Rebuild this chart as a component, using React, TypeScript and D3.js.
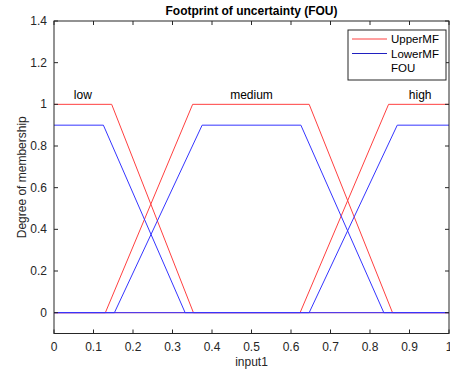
import React from "react";
import * as d3 from "d3";

const mfNames = ["low", "medium", "high"];
const labelX = [0.073, 0.5, 0.927];
const upperX = [
  [0, 0, 0.146, 0.353, 1],
  [0, 0.13, 0.351, 0.646, 0.857, 1],
  [0, 0.623, 0.847, 1, 1],
];
const upperY = [
  [1, 1, 1, 0, 0],
  [0, 0, 1, 1, 0, 0],
  [0, 0, 1, 1, 1],
];
const lowerX = [
  [0, 0, 0.125, 0.332, 1],
  [0, 0.153, 0.375, 0.625, 0.835, 1],
  [0, 0.646, 0.869, 1, 1],
];
const lowerY = [
  [0.9, 0.9, 0.9, 0, 0],
  [0, 0, 0.9, 0.9, 0, 0],
  [0, 0, 0.9, 0.9, 0.9],
];
const xTicks = [0, 0.1, 0.2, 0.3, 0.4, 0.5, 0.6, 0.7, 0.8, 0.9, 1];
const yTicks = [0, 0.2, 0.4, 0.6, 0.8, 1, 1.2, 1.4];
const legendItems = ["UpperMF", "LowerMF", "FOU"];

const RED = "#ff4040";
const BLUE = "#3535ff";
const AX = "#262626";
const FONT = "Liberation Sans, Arial, Helvetica, sans-serif";

export default function App() {
  const W = 450, H = 376;
  const left = 54, right = 449, top = 21, bottom = 333.5;
  const x = d3.scaleLinear().domain([0, 1]).range([left, right]);
  const y = d3.scaleLinear().domain([-0.1, 1.4]).range([bottom, top]);
  const line = (xs: number[], ys: number[]) =>
    d3.line<number>().x((_, i) => x(xs[i])).y((d) => y(d))(ys) || "";

  return (
    <svg width={W} height={H} style={{ position: "absolute", left: 0, top: 0, background: "#fff" }} fontFamily={FONT}>
      <rect x={0} y={0} width={W} height={H} fill="#fff" />
      {/* MF lines */}
      {upperX.map((xs, i) => (
        <path key={"u" + i} d={line(xs, upperY[i])} fill="none" stroke={RED} strokeWidth={1} />
      ))}
      {lowerX.map((xs, i) => (
        <path key={"l" + i} d={line(xs, lowerY[i])} fill="none" stroke={BLUE} strokeWidth={1} />
      ))}
      {/* labels */}
      {mfNames.map((n, i) => (
        <text key={n} x={x(labelX[i])} y={y(1.025)} fontSize={12} textAnchor="middle" fill="#000">{n}</text>
      ))}
      {/* axes box */}
      <rect x={left} y={top} width={right - left} height={bottom - top} fill="none" stroke={AX} strokeWidth={1} />
      {xTicks.map((t) => (
        <g key={"x" + t}>
          <line x1={x(t)} x2={x(t)} y1={bottom} y2={bottom - 4} stroke={AX} />
          <line x1={x(t)} x2={x(t)} y1={top} y2={top + 4} stroke={AX} />
          <text x={x(t)} y={bottom + 17} fontSize={12} textAnchor="middle" fill={AX}>{String(t)}</text>
        </g>
      ))}
      {yTicks.map((t) => (
        <g key={"y" + t}>
          <line x1={left} x2={left + 4} y1={y(t)} y2={y(t)} stroke={AX} />
          <line x1={right} x2={right - 4} y1={y(t)} y2={y(t)} stroke={AX} />
          <text x={left - 7} y={y(t) + 4} fontSize={12} textAnchor="end" fill={AX}>{String(t)}</text>
        </g>
      ))}
      {/* title and axis labels */}
      <text x={(left + right) / 2} y={15} fontSize={12} fontWeight="bold" textAnchor="middle" fill="#000">Footprint of uncertainty (FOU)</text>
      <text x={(left + right) / 2} y={366} fontSize={12} textAnchor="middle" fill={AX}>input1</text>
      <text transform={`translate(26,${(top + bottom) / 2}) rotate(-90)`} fontSize={12} textAnchor="middle" fill={AX}>Degree of membership</text>
      {/* legend */}
      <rect x={348} y={30} width={98} height={50} fill="#fff" stroke={AX} strokeWidth={1} />
      {legendItems.map((n, i) => (
        <g key={n}>
          {i < 2 && (
            <line x1={352} x2={387} y1={39 + i * 14.5} y2={39 + i * 14.5} stroke={i === 0 ? RED : "#2020c0"} strokeWidth={1} />
          )}
          <text x={391} y={43 + i * 14.5} fontSize={11.5} fill="#000">{n}</text>
        </g>
      ))}
    </svg>
  );
}
